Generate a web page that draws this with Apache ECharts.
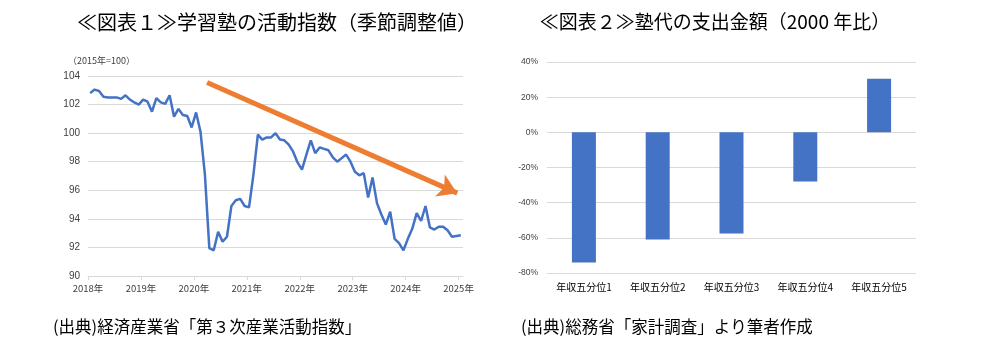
<!DOCTYPE html>
<html lang="ja">
<head>
<meta charset="UTF-8">
<title>学習塾の活動指数と塾代の支出金額</title>
<script src="https://cdn.jsdelivr.net/npm/echarts@6/dist/echarts.min.js"></script>
<style>html,body{margin:0;background:#fff;}</style>
</head>
<body>
<div id="main" style="width:985px;height:354px;"></div>
<script>
// 図表1：学習塾の活動指数（季節調整値、2015年=100）、2018年1月〜2025年1月の月次
var yearLabels = ['2018年', '2019年', '2020年', '2021年', '2022年', '2023年', '2024年', '2025年'];
var activityIndex = [
  102.8, 103.05, 102.95, 102.55, 102.5, 102.5, 102.5, 102.4, 102.65, 102.35, 102.15, 102.0,
  102.35, 102.2, 101.5, 102.45, 102.15, 102.05, 102.65, 101.15, 101.7, 101.27, 101.2, 100.4,
  101.45, 100.1, 97.1, 91.95, 91.8, 93.1, 92.4, 92.75, 94.9, 95.3, 95.4, 94.9,
  94.8, 97.1, 99.9, 99.55, 99.7, 99.7, 100.0, 99.55, 99.5, 99.2, 98.7, 97.95,
  97.45, 98.5, 99.5, 98.6, 99.0, 98.9, 98.8, 98.3, 98.0, 98.25, 98.5, 98.0,
  97.3, 97.05, 97.2, 95.5, 96.9, 95.1, 94.3, 93.6, 94.5, 92.6, 92.3, 91.8,
  92.6, 93.3, 94.4, 93.85, 94.9, 93.4, 93.25, 93.45, 93.45, 93.2, 92.75, 92.8,
  92.85
];
// 傾向を示す矢印（始点・終点：[月の位置, 指数]）
var trendStart = [27, 103.55];
var trendEnd = [83.7, 95.8];

// 図表2：塾代の支出金額（2000年比、%）
var incomeGroups = ['年収五分位1', '年収五分位2', '年収五分位3', '年収五分位4', '年収五分位5'];
var spendChange = [-74, -61, -57.5, -28, 30.5];

var yearTicks = yearLabels.map(function (y, i) { return i * 12; });
var indexData = activityIndex.map(function (v, i) { return [i + 0.5, v]; });

var font = '"Noto Sans CJK JP", sans-serif';
var numFont = 'Liberation Sans, Arial, sans-serif';
var grey = '#D9D9D9';
var blue = '#4472C4';

var chart = echarts.init(document.getElementById('main'));
chart.setOption({
  animation: false,
  backgroundColor: '#fff',
  graphic: [
    { type: 'text', x: 277, y: 22, style: { text: '≪図表１≫学習塾の活動指数（季節調整値）', font: '20px ' + font, fill: '#000', textAlign: 'center', textVerticalAlign: 'middle' } },
    { type: 'text', x: 715, y: 22, style: { text: '≪図表２≫塾代の支出金額（2000 年比）', font: '19px ' + font, fill: '#000', textAlign: 'center', textVerticalAlign: 'middle' } },
    { type: 'text', x: 68, y: 61, style: { text: '（2015年=100）', font: '9px ' + font, fill: '#404040', textAlign: 'left', textVerticalAlign: 'middle' } },
    { type: 'text', x: 53, y: 327, style: { text: '(出典)経済産業省「第３次産業活動指数」', font: '16.5px ' + font, fill: '#000', textAlign: 'left', textVerticalAlign: 'middle' } },
    { type: 'text', x: 521, y: 327, style: { text: '(出典)総務省「家計調査」より筆者作成', font: '16.5px ' + font, fill: '#000', textAlign: 'left', textVerticalAlign: 'middle' } }
  ],
  grid: [
    { left: 88, right: 522, top: 76, bottom: 78 },
    { left: 547, right: 69, top: 62, bottom: 81 }
  ],
  xAxis: [
    {
      gridIndex: 0, type: 'value', min: 0, max: 85, interval: 12,
      axisLine: { lineStyle: { color: grey } },
      axisTick: { show: true, length: 4, lineStyle: { color: grey }, customValues: yearTicks },
      splitLine: { show: false },
      axisLabel: {
        customValues: yearTicks, color: '#404040', fontSize: 9.5, fontFamily: font, margin: 8,
        formatter: function (v) { return yearLabels[Math.round(v / 12)]; }
      }
    },
    {
      gridIndex: 1, type: 'category', data: incomeGroups,
      axisLine: { show: false, onZero: false },
      axisTick: { show: false },
      axisLabel: { color: '#000', fontSize: 10, fontFamily: font, margin: 9 }
    }
  ],
  yAxis: [
    {
      gridIndex: 0, type: 'value', min: 90, max: 104, interval: 2,
      axisLine: { show: false }, axisTick: { show: false },
      splitLine: { lineStyle: { color: grey } },
      axisLabel: { color: '#404040', fontSize: 10, fontFamily: numFont, margin: 8 }
    },
    {
      gridIndex: 1, type: 'value', min: -80, max: 40, interval: 20,
      axisLine: { show: false }, axisTick: { show: false },
      splitLine: { lineStyle: { color: grey } },
      axisLabel: { color: '#404040', fontSize: 8.5, fontFamily: numFont, margin: 9, formatter: '{value}%' }
    }
  ],
  series: [
    {
      type: 'line', xAxisIndex: 0, yAxisIndex: 0, data: indexData,
      showSymbol: false, lineStyle: { color: blue, width: 2.5 },
      markLine: {
        silent: true, symbol: ['none', 'arrow'], symbolSize: [18, 19],
        label: { show: false },
        lineStyle: { color: '#ED7D31', width: 5, type: 'solid' },
        data: [[{ coord: trendStart }, { coord: trendEnd }]]
      },
      z: 3
    },
    {
      type: 'bar', xAxisIndex: 1, yAxisIndex: 1, data: spendChange,
      barWidth: 24, itemStyle: { color: blue }
    }
  ]
});
</script>
</body>
</html>
